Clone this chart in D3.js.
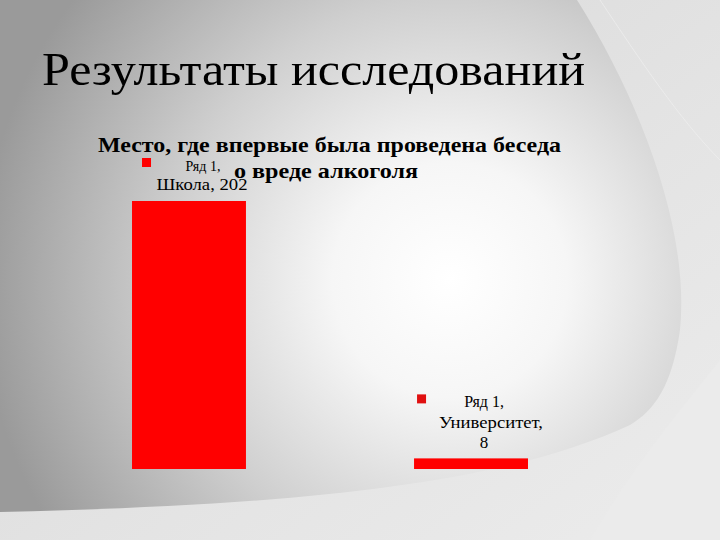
<!DOCTYPE html>
<html><head><meta charset="utf-8">
<script src="https://cdn.jsdelivr.net/npm/d3@7"></script>
<style>html,body{margin:0;padding:0;overflow:hidden;}svg{display:block;}</style>
</head><body>
<script>
const categories = ["Школа", "Университет"];
const values = [202, 8];
const seriesName = "Ряд 1";
const slideTitle = "Результаты исследований";
const chartTitle = ["Место, где впервые была проведена беседа", "о вреде алкоголя"];

const W = 720, H = 540;
const svg = d3.select("body").append("svg").attr("width", W).attr("height", H);
const defs = svg.append("defs");

const lg = defs.append("linearGradient").attr("id","lightbg").attr("x1","0").attr("y1","0").attr("x2","1").attr("y2","1");
lg.append("stop").attr("offset","0").attr("stop-color","#d6d6d6");
lg.append("stop").attr("offset","0.6").attr("stop-color","#e4e4e4");
lg.append("stop").attr("offset","1").attr("stop-color","#ececec");

const rg = defs.append("radialGradient").attr("id","sphere").attr("gradientUnits","userSpaceOnUse")
  .attr("cx",450).attr("cy",280).attr("r",470);
rg.append("stop").attr("offset","0").attr("stop-color","#ffffff");
rg.append("stop").attr("offset","0.25").attr("stop-color","#f6f6f6");
rg.append("stop").attr("offset","0.6").attr("stop-color","#cfcfcf");
rg.append("stop").attr("offset","1").attr("stop-color","#9a9a9a");

svg.append("rect").attr("width",W).attr("height",H).attr("fill","url(#lightbg)");
svg.append("path").attr("d","M590,540 C630,470 680,410 720,360 L720,540 Z").attr("fill","#ebebeb");
svg.append("path")
  .attr("d","M0,0 L577,0 C640,100 690,230 680,330 C672,385 655,410 630,425 C500,485 300,505 0,512 Z")
  .attr("fill","url(#sphere)");
svg.append("path").attr("d","M600,0 C640,60 680,120 720,160").attr("fill","none").attr("stroke","#f2f2f2").attr("stroke-width",1).attr("opacity",0.6);

const serif = "'Liberation Serif','DejaVu Serif',serif";

svg.append("text").attr("x",42).attr("y",85).attr("font-family",serif).attr("font-size",46)
  .attr("fill","#000").attr("textLength",543).attr("lengthAdjust","spacingAndGlyphs").text(slideTitle);

const ct = svg.append("text").attr("font-family",serif).attr("font-weight","bold").attr("font-size",21).attr("fill","#000");
ct.append("tspan").attr("x",98).attr("y",152).attr("textLength",463).attr("lengthAdjust","spacingAndGlyphs").text(chartTitle[0]);
ct.append("tspan").attr("x",234).attr("y",178).attr("textLength",184).attr("lengthAdjust","spacingAndGlyphs").text(chartTitle[1]);

const x = d3.scaleBand().domain(categories).range([47.4, 612.6]).paddingInner(0.596).paddingOuter(0.3);
const y = d3.scaleLinear().domain([0, 202]).range([469, 201]);

svg.selectAll("rect.bar").data(values).join("rect").attr("class","bar")
  .attr("x",(d,i)=>x(categories[i])).attr("width",x.bandwidth())
  .attr("y",d=>y(d)).attr("height",d=>y(0)-y(d)).attr("fill","#ff0000");

// data labels
const bx0 = x(categories[0]), by0 = y(values[0]);
const lab0 = svg.append("g");
lab0.append("rect").attr("x",bx0+10).attr("y",by0-43).attr("width",9).attr("height",9).attr("fill","#ff0000");
lab0.append("text").attr("x",bx0+71).attr("y",by0-30).attr("text-anchor","middle")
  .attr("font-family",serif).attr("font-size",14).text(seriesName + ",");
lab0.append("text").attr("x",bx0+70).attr("y",by0-11).attr("text-anchor","middle")
  .attr("font-family",serif).attr("font-size",17).attr("textLength",91).attr("lengthAdjust","spacingAndGlyphs")
  .text(categories[0] + ", " + values[0]);

const bx1 = x(categories[1]), by1 = y(values[1]);
const lab1 = svg.append("g");
lab1.append("rect").attr("x",bx1+3).attr("y",by1-64).attr("width",9).attr("height",9).attr("fill","#e01010");
lab1.append("text").attr("x",bx1+70).attr("y",by1-51).attr("text-anchor","middle")
  .attr("font-family",serif).attr("font-size",16).text(seriesName + ",");
lab1.append("text").attr("x",bx1+77).attr("y",by1-30).attr("text-anchor","middle")
  .attr("font-family",serif).attr("font-size",17).attr("textLength",104).attr("lengthAdjust","spacingAndGlyphs")
  .text(categories[1] + ",");
lab1.append("text").attr("x",bx1+70).attr("y",by1-10).attr("text-anchor","middle")
  .attr("font-family",serif).attr("font-size",17).text(values[1]);
</script>
</body></html>
